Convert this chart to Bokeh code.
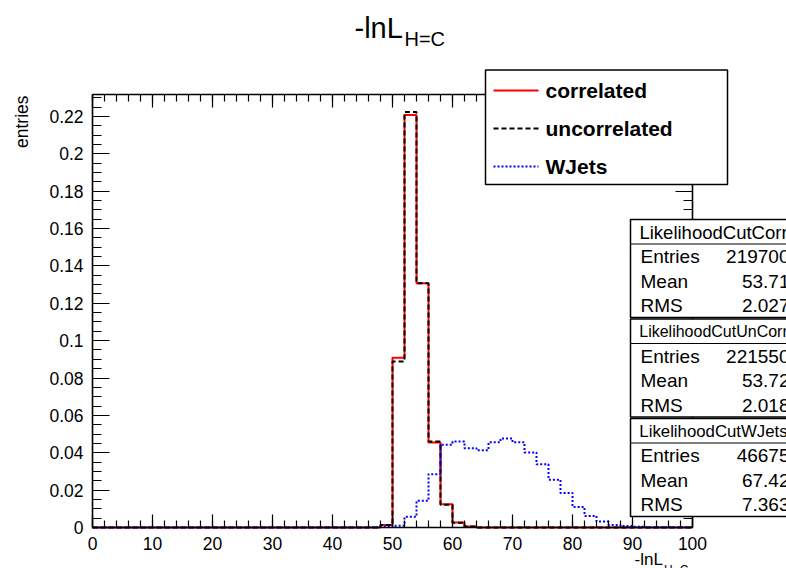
import math
from bokeh.plotting import figure
from bokeh.models import (LinearAxis, SingleIntervalTicker, Range1d, Label, BoxAnnotation,
                          CustomJSTickFormatter)
from bokeh.embed import file_html
from bokeh.resources import INLINE

# ---------------- data ----------------
bin_left_edges = list(range(0, 100, 2))
x_max = 100

correlated = [0.0] * 24 + [0.0014, 0.0909, 0.2207, 0.1307, 0.0455, 0.0125, 0.0027, 0.0005] + [0.0] * 18
uncorrelated = [0.0] * 24 + [0.0014, 0.0888, 0.2224, 0.1307, 0.0460, 0.0122, 0.0025, 0.0005] + [0.0] * 18
wjets = [0.0] * 23 + [0.0002, 0.0004, 0.0010, 0.0057, 0.0143, 0.0285, 0.0443, 0.0460, 0.0424,
                      0.0413, 0.0456, 0.0476, 0.0456, 0.0402, 0.0338, 0.0256, 0.0185, 0.0110,
                      0.0062, 0.0032, 0.0014, 0.0008, 0.0004, 0.0002, 0.0001, 0.0001, 0.0001]

series_labels = ["correlated", "uncorrelated", "WJets"]
series_colors = ["red", "black", "blue"]
stat_names = ["LikelihoodCutCorr", "LikelihoodCutUnCorr", "LikelihoodCutWJets"]
stat_entries = ["219700", "221550", "46675"]
stat_means = ["53.71", "53.72", "67.42"]
stat_rms = ["2.027", "2.018", "7.363"]
stat_row_names = ["Entries", "Mean", "RMS"]

title_main = "-lnL"
title_sub = "H=C"
y_title = "entries"

# ---------------- layout ----------------
W, H = 786, 568
FL, FR, FT, FB = 92, 692, 94, 527   # pixel edges of the histogram frame
YMAX = 1.05 * max(correlated)
FONT = "Liberation Sans"


def px2x(px):
    return (px - FL) * x_max / (FR - FL)


def py2y(py):
    return (FB - py) * YMAX / (FB - FT)


# the plotting frame spans the whole canvas; the axes are pinned to the histogram frame
p = figure(width=W, height=H, x_range=Range1d(px2x(0), px2x(W)), y_range=Range1d(py2y(H), py2y(0)),
           output_backend="svg", toolbar_location=None,
           min_border_left=0, min_border_right=0, min_border_top=0, min_border_bottom=0)
p.xgrid.visible = False
p.ygrid.visible = False
p.outline_line_color = None
p.background_fill_color = "white"
p.border_fill_color = "white"

xt = SingleIntervalTicker(interval=10, num_minor_ticks=5)
yt = SingleIntervalTicker(interval=0.02, num_minor_ticks=4)
yfmt = CustomJSTickFormatter(code="return String(Math.round(tick*1000)/1000);")
blank = CustomJSTickFormatter(code="return '';")

bottom_axis = p.below[0]
left_axis = p.left[0]
top_axis = LinearAxis(ticker=xt, formatter=blank)
right_axis = LinearAxis(ticker=yt, formatter=blank)
p.add_layout(top_axis, "above")
p.add_layout(right_axis, "right")

bottom_axis.fixed_location = 0
top_axis.fixed_location = YMAX
left_axis.fixed_location = 0
right_axis.fixed_location = x_max

for ax in [bottom_axis, top_axis]:
    ax.ticker = xt
    ax.bounds = (0, x_max)
    ax.major_tick_in = 13
    ax.minor_tick_in = 7
for ax in [left_axis, right_axis]:
    ax.ticker = yt
    ax.bounds = (0, YMAX)
    ax.major_tick_in = 17
    ax.minor_tick_in = 9
left_axis.formatter = yfmt

for ax in [bottom_axis, top_axis, left_axis, right_axis]:
    ax.major_tick_out = 0
    ax.minor_tick_out = 0
    ax.axis_line_width = 1.6
    ax.axis_line_color = "black"
    ax.major_tick_line_color = "black"
    ax.minor_tick_line_color = "black"
    ax.major_tick_line_width = 1.2
    ax.minor_tick_line_width = 1.2
    ax.major_label_text_font = FONT
    ax.major_label_text_font_size = "17.5px"
    ax.major_label_text_color = "black"
    ax.major_label_standoff = 9

# ---------------- histograms ----------------
xs = bin_left_edges + [x_max]
r1 = p.step(xs, correlated + [correlated[-1]], mode="after", line_color=series_colors[0], line_width=2)
r2 = p.step(xs, uncorrelated + [uncorrelated[-1]], mode="after", line_color=series_colors[1],
            line_width=2, line_dash="5 3")
r3 = p.step(xs, wjets + [wjets[-1]], mode="after", line_color=series_colors[2], line_width=2,
            line_dash="2 2")


def box(l, r, t, b, fill="white", line="black", lw=1.5, fill_alpha=1.0, line_alpha=1.0):
    p.add_layout(BoxAnnotation(left=px2x(l), right=px2x(r), top=py2y(t), bottom=py2y(b),
                               fill_color=fill, fill_alpha=fill_alpha, line_color=line,
                               line_width=lw, line_alpha=line_alpha))


def text(px, py, s, size, align="left", baseline="middle", style="normal", angle=0.0):
    p.add_layout(Label(x=px2x(px), y=py2y(py), text=s, text_align=align, text_baseline=baseline,
                       text_font=FONT, text_font_size=size, text_font_style=style,
                       text_color="black", angle=angle))


# ---------------- legend ----------------
box(485, 727, 69.5, 184)
leg_rows = [90, 128, 166]
box(493, 538, leg_rows[0] - 1, leg_rows[0] + 1, fill=series_colors[0], line_alpha=0)
for k in range(6):
    l = 493 + 8 * k
    box(l, min(l + 5, 538), leg_rows[1] - 1, leg_rows[1] + 1, fill=series_colors[1], line_alpha=0)
for k in range(12):
    l = 493 + 4 * k
    box(l, min(l + 2, 538), leg_rows[2] - 1, leg_rows[2] + 1, fill=series_colors[2], line_alpha=0)
for i in range(3):
    text(545, leg_rows[i], series_labels[i], "21px", style="bold")

# ---------------- stat boxes ----------------
box_tops = [219, 318.5, 418]
box_h = 98
header_sizes = ["18.5px", "16px", "16.8px"]
for i in range(3):
    t = box_tops[i]
    box(630, 820, t, t + box_h)
    box(630, 820, t + 24, t + 25, fill="black", line_alpha=0)
    text(713, t + 12.5, stat_names[i], header_sizes[i], align="center")
    vals = [stat_entries[i], stat_means[i], stat_rms[i]]
    for j in range(3):
        yc = t + 37 + 24.6 * j
        text(640, yc, stat_row_names[j], "19px")
        text(789, yc, vals[j], "19px", align="right")

# ---------------- titles ----------------
text(354, 27, title_main, "29px")
text(404, 38, title_sub, "20px")
text(634, 558.5, title_main, "17px")
text(663.5, 569.5, title_sub, "12px")
text(21, 95, y_title, "17.5px", align="right", angle=math.pi / 2)

open("out.html", "w").write(file_html(p, INLINE))
